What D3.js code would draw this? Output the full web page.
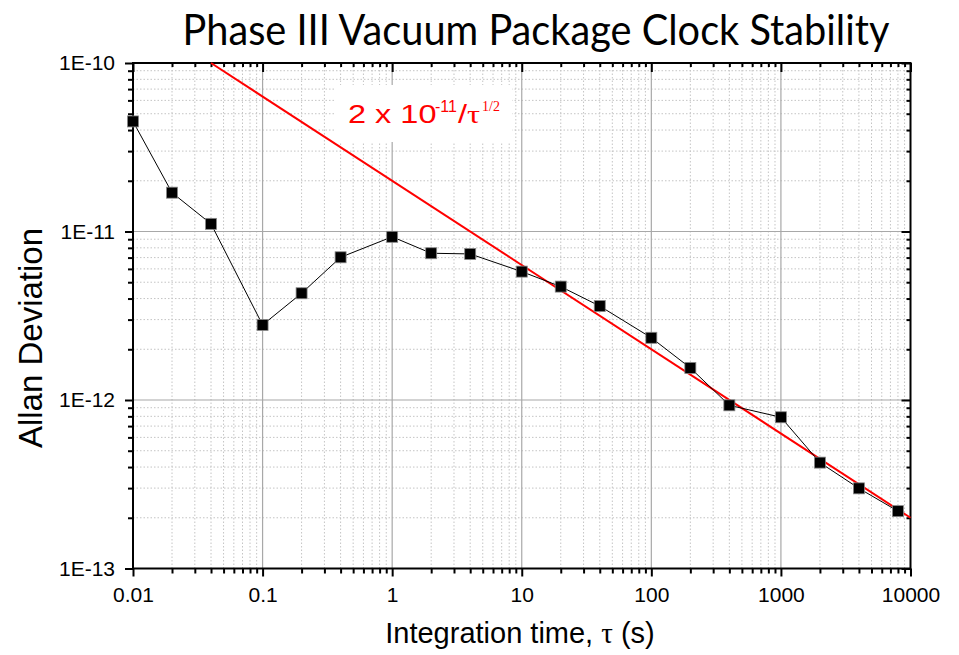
<!DOCTYPE html>
<html>
<head>
<meta charset="utf-8">
<script src="https://cdn.jsdelivr.net/npm/d3@7/dist/d3.min.js"></script>
<style>
  html, body { margin: 0; padding: 0; background: #fff; }
  svg { display: block; }
</style>
</head>
<body>
<svg id="chart" width="959" height="655"></svg>
<script>
// Allan deviation measurements: averaging time (s) and deviation
const tauValues  = [0.01, 0.02, 0.04, 0.1, 0.2, 0.4, 1, 2, 4, 10, 20, 40, 100, 200, 400, 1000, 2000, 4000, 8000];
const adevValues = [4.5e-11, 1.70e-11, 1.11e-11, 2.79e-12, 4.30e-12, 7.03e-12, 9.3e-12, 7.43e-12, 7.36e-12,
                    5.78e-12, 4.71e-12, 3.61e-12, 2.34e-12, 1.55e-12, 9.3e-13, 7.9e-13, 4.25e-13, 2.99e-13, 2.19e-13];

// White-frequency-noise reference line: 2e-11 / sqrt(tau)
const fitCoefficient = 2e-11;
const fitTauRange = [0.04, 10000];

const xTickValues = [0.01, 0.1, 1, 10, 100, 1000, 10000];
const xTickLabels = ["0.01", "0.1", "1", "10", "100", "1000", "10000"];
const yTickValues = [1e-13, 1e-12, 1e-11, 1e-10];
const yTickLabels = ["1E-13", "1E-12", "1E-11", "1E-10"];

const svg = d3.select("#chart");
const plotL = 133, plotR = 910.5, plotT = 63, plotB = 568.5;

const x = d3.scaleLog().domain([0.01, 10000]).range([plotL, plotR]);
const y = d3.scaleLog().domain([1e-13, 1e-10]).range([plotB, plotT]);

// minor tick positions (2..9 within each decade)
const xMinor = [];
for (let d = -2; d < 4; d++) for (let k = 2; k <= 9; k++) xMinor.push(k * Math.pow(10, d));
const yMinor = [];
for (let d = -13; d < -10; d++) for (let k = 2; k <= 9; k++) yMinor.push(k * Math.pow(10, d));

// grid
const grid = svg.append("g");
grid.selectAll(".gxm").data(xMinor).join("line")
  .attr("x1", d => x(d)).attr("x2", d => x(d)).attr("y1", plotT).attr("y2", plotB)
  .attr("stroke", "#c4c4c4").attr("stroke-width", 1).attr("stroke-dasharray", "1.5,2");
grid.selectAll(".gym").data(yMinor).join("line")
  .attr("y1", d => y(d)).attr("y2", d => y(d)).attr("x1", plotL).attr("x2", plotR)
  .attr("stroke", "#c4c4c4").attr("stroke-width", 1).attr("stroke-dasharray", "1.5,2");
grid.selectAll(".gxM").data(xTickValues.slice(1, -1)).join("line")
  .attr("x1", d => x(d)).attr("x2", d => x(d)).attr("y1", plotT).attr("y2", plotB)
  .attr("stroke", "#a8a8a8").attr("stroke-width", 1.2);
grid.selectAll(".gyM").data(yTickValues.slice(1, -1)).join("line")
  .attr("y1", d => y(d)).attr("y2", d => y(d)).attr("x1", plotL).attr("x2", plotR)
  .attr("stroke", "#a8a8a8").attr("stroke-width", 1.2);

// label backdrop
svg.append("rect").attr("x", 334).attr("y", 85).attr("width", 178).attr("height", 57).attr("fill", "#fff");

// axes
function styleAxis(g) {
  g.select(".domain").remove();
  g.selectAll("line").attr("stroke", "#000").attr("stroke-width", 2);
  g.selectAll("text").attr("fill", "#000").attr("font-family", "Arial, 'Liberation Sans', sans-serif").attr("font-size", 21);
}
const fmtX = d => xTickLabels[xTickValues.indexOf(d)];
const fmtY = d => yTickLabels[yTickValues.findIndex(v => Math.abs(v - d) / v < 1e-6)];

svg.append("g").attr("transform", `translate(0,${plotB})`)
  .call(d3.axisBottom(x).tickValues(xMinor).tickSize(5).tickFormat("")).call(styleAxis);
svg.append("g").attr("transform", `translate(0,${plotB})`)
  .call(d3.axisBottom(x).tickValues(xTickValues).tickSize(8).tickPadding(11).tickFormat(fmtX)).call(styleAxis);
svg.append("g").attr("transform", `translate(0,${plotT})`)
  .call(d3.axisTop(x).tickValues(xMinor).tickSize(-4).tickFormat("")).call(styleAxis);
svg.append("g").attr("transform", `translate(0,${plotT})`)
  .call(d3.axisTop(x).tickValues(xTickValues).tickSize(-9).tickFormat("")).call(styleAxis);

svg.append("g").attr("transform", `translate(${plotL},0)`)
  .call(d3.axisLeft(y).tickValues(yMinor).tickSize(5).tickFormat("")).call(styleAxis);
svg.append("g").attr("transform", `translate(${plotL},0)`)
  .call(d3.axisLeft(y).tickValues(yTickValues).tickSize(8).tickPadding(10).tickFormat(fmtY)).call(styleAxis);
svg.append("g").attr("transform", `translate(${plotR},0)`)
  .call(d3.axisRight(y).tickValues(yMinor).tickSize(-4).tickFormat("")).call(styleAxis);
svg.append("g").attr("transform", `translate(${plotR},0)`)
  .call(d3.axisRight(y).tickValues(yTickValues).tickSize(-9).tickFormat("")).call(styleAxis);

// frame
svg.append("rect").attr("x", plotL).attr("y", plotT).attr("width", plotR - plotL).attr("height", plotB - plotT)
  .attr("fill", "none").attr("stroke", "#000").attr("stroke-width", 2);

// reference line
const fitLine = d3.line().x(d => x(d)).y(d => y(fitCoefficient / Math.sqrt(d)));
svg.append("path").datum(fitTauRange).attr("d", fitLine)
  .attr("fill", "none").attr("stroke", "#ff0000").attr("stroke-width", 2);

// measured data
const pts = tauValues.map((t, i) => [t, adevValues[i]]);
svg.append("path").datum(pts)
  .attr("d", d3.line().x(d => x(d[0])).y(d => y(d[1])))
  .attr("fill", "none").attr("stroke", "#000").attr("stroke-width", 1);
const s = 11;
svg.selectAll(".pt").data(pts).join("rect")
  .attr("x", d => x(d[0]) - s / 2).attr("y", d => y(d[1]) - s / 2)
  .attr("width", s).attr("height", s)
  .attr("fill", "#000").attr("stroke", "#888").attr("stroke-width", 0.8);

// fit label: 2 x 10^-11 / tau^(1/2)
const sans = "Arial, 'Liberation Sans', sans-serif";
const serif = "'Liberation Serif', 'Times New Roman', serif";
const lg = svg.append("g").attr("transform", "translate(348,123)").attr("fill", "#ff0000");
lg.append("text").attr("transform", "scale(1.3,1)").attr("font-family", sans).attr("font-size", 25).text("2 x 10");
lg.append("text").attr("x", 87).attr("y", -11).attr("font-family", sans).attr("font-size", 16).text("-11");
lg.append("text").attr("transform", "translate(110,0) scale(1.3,1)").attr("font-family", sans).attr("font-size", 25).text("/");
lg.append("text").attr("transform", "translate(119,0) scale(1.3,1)").attr("font-family", serif).attr("font-size", 25).text("τ");
lg.append("text").attr("x", 134).attr("y", -12).attr("font-family", serif).attr("font-size", 14).text("1/2");

// titles
svg.append("text").attr("x", 536).attr("y", 45).attr("text-anchor", "middle")
  .attr("font-family", "Lato, 'Open Sans', sans-serif").attr("font-size", 42)
  .attr("textLength", 707).attr("lengthAdjust", "spacingAndGlyphs")
  .text("Phase III Vacuum Package Clock Stability");

const xt = svg.append("text").attr("x", 520).attr("y", 643).attr("text-anchor", "middle")
  .attr("font-family", sans).attr("font-size", 29);
xt.append("tspan").text("Integration time, ");
xt.append("tspan").attr("font-family", serif).text("τ");
xt.append("tspan").text(" (s)");

svg.append("text").attr("transform", "translate(42,338) rotate(-90)").attr("text-anchor", "middle")
  .attr("font-family", sans).attr("font-size", 33)
  .text("Allan Deviation");
</script>
</body>
</html>
